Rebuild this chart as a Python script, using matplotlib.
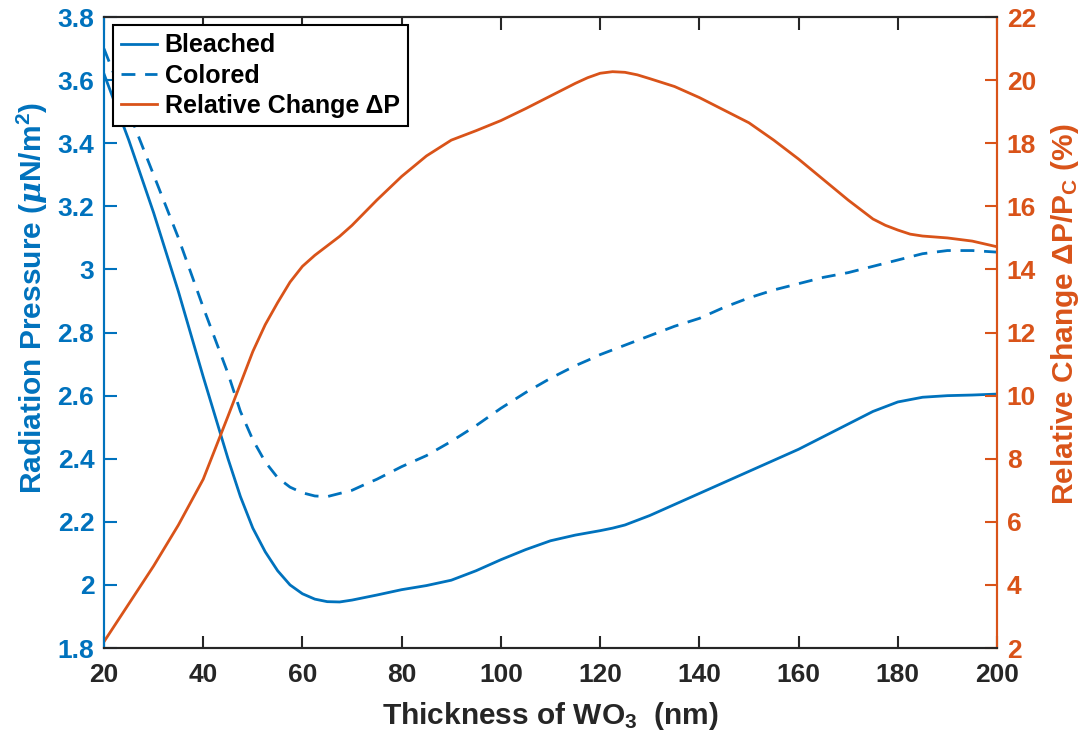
import numpy as np
import matplotlib
matplotlib.use("Agg")
import matplotlib.pyplot as plt
from matplotlib.ticker import FormatStrFormatter

plt.rcParams['font.family'] = ['Liberation Sans', 'DejaVu Sans']
plt.rcParams['font.weight'] = 'bold'
plt.rcParams['mathtext.fontset'] = 'custom'
plt.rcParams['mathtext.rm'] = 'Liberation Sans:bold'
plt.rcParams['mathtext.bf'] = 'Liberation Sans:bold'
plt.rcParams['mathtext.it'] = 'DejaVu Serif:italic:bold'

# thickness (nm) for the pressure curves
thick_p = [20, 25, 30, 35, 40, 45, 47.5, 50, 52.5, 55, 57.5, 60, 62.5, 65, 67.5,
           70, 72.5, 75, 80, 85, 90, 95, 100, 105, 110, 115, 117.5, 120, 122.5,
           125, 127.5, 130, 135, 140, 145, 150, 155, 160, 165, 170, 175, 180,
           185, 190, 195, 200]

# radiation pressure, bleached state (uN/m^2)
bleached = [3.62, 3.41, 3.18, 2.93, 2.66, 2.40, 2.28, 2.18, 2.105, 2.045, 2.0,
            1.972, 1.955, 1.947, 1.946, 1.952, 1.96, 1.968, 1.985, 1.998, 2.015,
            2.045, 2.08, 2.112, 2.14, 2.158, 2.165, 2.172, 2.18, 2.19, 2.205,
            2.22, 2.255, 2.29, 2.325, 2.36, 2.395, 2.43, 2.47, 2.51, 2.55, 2.58,
            2.595, 2.60, 2.602, 2.605]

# radiation pressure, colored state (uN/m^2)
colored = [3.70, 3.50, 3.30, 3.10, 2.88, 2.67, 2.55, 2.46, 2.39, 2.34, 2.31,
           2.292, 2.282, 2.28, 2.29, 2.30, 2.318, 2.335, 2.375, 2.41, 2.455,
           2.505, 2.56, 2.61, 2.655, 2.695, 2.712, 2.73, 2.745, 2.76, 2.775,
           2.79, 2.82, 2.845, 2.88, 2.91, 2.935, 2.955, 2.975, 2.99, 3.01, 3.03,
           3.05, 3.06, 3.06, 3.055]

# thickness (nm) for the relative change curve
thick_r = [20, 25, 30, 35, 40, 45, 50, 52.5, 55, 57.5, 60, 62.5, 65, 67.5, 70,
           75, 80, 85, 90, 95, 100, 105, 110, 115, 117.5, 120, 122.5, 125,
           127.5, 130, 135, 140, 145, 150, 155, 160, 165, 170, 175, 177.5, 180,
           182.5, 185, 190, 195, 200]

# relative change dP/Pc (%)
rel_change = [2.2, 3.4, 4.6, 5.9, 7.35, 9.35, 11.4, 12.25, 12.95, 13.6, 14.1,
              14.45, 14.75, 15.05, 15.4, 16.2, 16.95, 17.6, 18.1, 18.4, 18.72,
              19.1, 19.5, 19.9, 20.08, 20.22, 20.27, 20.25, 20.17, 20.05, 19.8,
              19.45, 19.05, 18.65, 18.1, 17.5, 16.85, 16.2, 15.6, 15.4, 15.25,
              15.12, 15.06, 15.0, 14.9, 14.72]

blue = '#0072BD'
orange = '#D95319'
dark = '#262626'

fig = plt.figure(figsize=(10.9, 7.44), dpi=100)
ax = fig.add_axes([0.0954, 0.129, 0.8193, 0.848])
ax2 = ax.twinx()

l1, = ax.plot(thick_p, bleached, color=blue, lw=2.0, label='Bleached')
l2, = ax.plot(thick_p, colored, color=blue, lw=2.0, ls=(0, (5, 3.5)), label='Colored')
l3, = ax2.plot(thick_r, rel_change, color=orange, lw=2.0, label='Relative Change ΔP')

ax.set_xlim(20, 200)
ax.set_ylim(1.8, 3.8)
ax2.set_ylim(2, 22)
ax.set_xticks(np.arange(20, 201, 20))
ax.set_yticks(np.arange(1.8, 3.81, 0.2))
ax2.set_yticks(np.arange(2, 23, 2))
ax.yaxis.set_major_formatter(FormatStrFormatter('%g'))

for a in (ax, ax2):
    for s in a.spines.values():
        s.set_linewidth(1.5)
    a.spines['top'].set_color(dark)
    a.spines['bottom'].set_color(dark)
    a.spines['left'].set_color(blue)
    a.spines['right'].set_color(orange)

ax.tick_params(axis='x', direction='in', top=True, length=9, width=1.5,
               colors=dark, labelsize=19, pad=11)
ax.tick_params(axis='y', direction='in', length=9, width=1.5,
               colors=blue, labelsize=19, pad=7)
ax2.tick_params(axis='y', direction='in', length=9, width=1.5,
                colors=orange, labelsize=19, pad=7)
for lab in ax.get_xticklabels() + ax.get_yticklabels() + ax2.get_yticklabels():
    lab.set_fontweight('bold')

ax.set_xlabel(r'Thickness of WO$_\mathbf{3}$  (nm)', fontsize=21.5,
              fontweight='bold', color=dark, labelpad=9)
ax.set_ylabel(r'Radiation Pressure ($\mu$N/m$^\mathbf{2}$)', fontsize=21.5,
              fontweight='bold', color=blue)
ax2.set_ylabel(r'Relative Change ΔP/P$_\mathbf{C}$ (%)', fontsize=21.5,
               fontweight='bold', color=orange)
ax.yaxis.set_label_coords(-0.06, 0.555)
ax2.yaxis.set_label_coords(1.058, 0.53)

leg = ax2.legend(handles=[l1, l2, l3], loc='upper left', fontsize=18,
                 bbox_to_anchor=(0.01, 0.987), borderaxespad=0, fancybox=False,
                 framealpha=1, edgecolor='black', handlelength=1.45,
                 handletextpad=0.3, borderpad=0.32, labelspacing=0.25)
leg.get_frame().set_linewidth(1.5)
for t in leg.get_texts():
    t.set_fontweight('bold')

fig.savefig('out.png', dpi=100)
